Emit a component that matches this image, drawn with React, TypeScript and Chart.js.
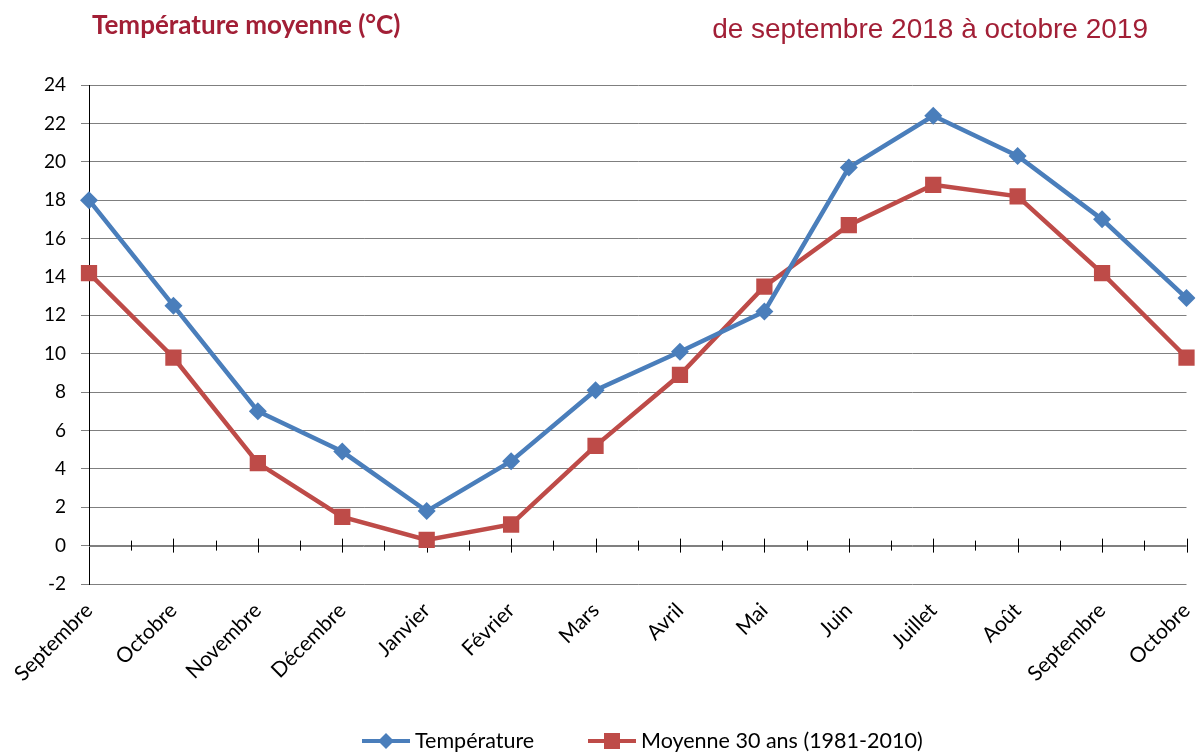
import React, { useEffect, useRef } from "react";
import { Chart, registerables } from "chart.js";

Chart.register(...registerables);

const months = [
  "Septembre", "Octobre", "Novembre", "Décembre", "Janvier", "Février", "Mars",
  "Avril", "Mai", "Juin", "Juillet", "Août", "Septembre", "Octobre",
];
const temperature = [18.0, 12.5, 7.0, 4.9, 1.8, 4.4, 8.1, 10.1, 12.2, 19.7, 22.4, 20.3, 17.0, 12.9];
const moyenne30 = [14.2, 9.8, 4.3, 1.5, 0.3, 1.1, 5.2, 8.9, 13.5, 16.7, 18.8, 18.2, 14.2, 9.8];
const seriesNames = ["Température", "Moyenne 30 ans (1981-2010)"];
const yMin = -2;
const yMax = 24;
const yStep = 2;
const titleText = "Température moyenne (°C)";
const subtitleText = "de septembre 2018 à octobre 2019";

const BLUE = "#4A7EBB";
const RED = "#BE4B48";
const TITLE_RED = "#A21F36";
const GRID = "#7F7F7F";
const LABEL_FONT = "Lato";

const decorPlugin = {
  id: "decor",
  beforeDatasetsDraw(chart: any) {
    const { ctx, scales } = chart;
    const x = scales.x;
    const y = scales.y;
    const y0 = y.getPixelForValue(0);
    ctx.save();
    ctx.strokeStyle = GRID;
    ctx.lineWidth = 1;
    ctx.beginPath();
    ctx.moveTo(x.left, Math.round(y0) + 0.5);
    ctx.lineTo(x.right, Math.round(y0) + 0.5);
    ctx.stroke();
    ctx.strokeStyle = "#000";
    const n = months.length;
    for (let i = 0; i < n; i++) {
      const px = Math.round(x.getPixelForValue(i)) + 0.5;
      if (i > 0) {
        ctx.beginPath();
        ctx.moveTo(px, y0 - 7);
        ctx.lineTo(px, y0 + 7);
        ctx.stroke();
      }
      if (i < n - 1) {
        const mx = Math.round((x.getPixelForValue(i) + x.getPixelForValue(i + 1)) / 2) + 0.5;
        ctx.beginPath();
        ctx.moveTo(mx, y0 - 5);
        ctx.lineTo(mx, y0 + 5);
        ctx.stroke();
      }
    }
    ctx.restore();
  },
  afterDraw(chart: any) {
    const { ctx } = chart;
    ctx.save();
    ctx.fillStyle = TITLE_RED;
    ctx.textBaseline = "middle";
    ctx.textAlign = "left";
    ctx.font = `bold 26px ${LABEL_FONT}`;
    ctx.fillText(titleText, 92, 26);
    ctx.font = `28px "Liberation Sans"`;
    ctx.textAlign = "right";
    ctx.fillText(subtitleText, 1148, 30);

    // legend
    const ly = 741;
    const items = [
      { x: 362, color: BLUE, style: "diamond", name: seriesNames[0] },
      { x: 588, color: RED, style: "square", name: seriesNames[1] },
    ];
    for (const it of items) {
      ctx.strokeStyle = it.color;
      ctx.fillStyle = it.color;
      ctx.lineWidth = 4;
      ctx.beginPath();
      ctx.moveTo(it.x, ly);
      ctx.lineTo(it.x + 48, ly);
      ctx.stroke();
      const cx = it.x + 24;
      ctx.beginPath();
      if (it.style === "diamond") {
        ctx.moveTo(cx, ly - 8);
        ctx.lineTo(cx + 8, ly);
        ctx.lineTo(cx, ly + 8);
        ctx.lineTo(cx - 8, ly);
        ctx.closePath();
      } else {
        ctx.rect(cx - 8, ly - 8, 16, 16);
      }
      ctx.fill();
      ctx.fillStyle = "#000";
      ctx.textAlign = "left";
      ctx.font = `21.5px ${LABEL_FONT}`;
      ctx.fillText(it.name, it.x + 53, ly);
    }
    ctx.restore();
  },
};

export default function App() {
  const ref = useRef<HTMLCanvasElement | null>(null);
  useEffect(() => {
    document.body.style.margin = "0";
    const canvas = ref.current;
    if (!canvas) return;
    const chart = new Chart(canvas, {
      type: "line",
      data: {
        labels: months,
        datasets: [
          {
            label: seriesNames[0],
            data: temperature,
            borderColor: BLUE,
            backgroundColor: BLUE,
            borderWidth: 4.5,
            pointStyle: "rectRot",
            pointRadius: 9,
            pointBorderWidth: 0,
            tension: 0,
          },
          {
            label: seriesNames[1],
            data: moyenne30,
            borderColor: RED,
            backgroundColor: RED,
            borderWidth: 4.5,
            pointStyle: "rect",
            pointRadius: 11.5,
            pointBorderWidth: 0,
            tension: 0,
          },
        ],
      },
      options: {
        animation: false,
        responsive: false,
        maintainAspectRatio: false,
        layout: { padding: { top: 85, right: 6, bottom: 70, left: 0 } },
        plugins: {
          legend: { display: false },
          title: { display: false },
          tooltip: { enabled: false },
        },
        scales: {
          x: {
            type: "category",
            offset: false,
            grid: { display: false },
            border: { display: false },
            ticks: {
              autoSkip: false,
              minRotation: 45,
              maxRotation: 45,
              padding: 6,
              color: "#000",
              font: { family: LABEL_FONT, size: 21 },
            },
            afterFit(s: any) {
              s.height = 100;
              s.paddingLeft = 0;
              s.paddingRight = 0;
            },
          },
          y: {
            min: yMin,
            max: yMax,
            ticks: {
              stepSize: yStep,
              padding: 15,
              color: "#000",
              font: { family: LABEL_FONT, size: 19 },
            },
            grid: { color: GRID, tickLength: 8, tickColor: GRID, lineWidth: 1 },
            border: { color: "#000", width: 1 },
            afterFit(s: any) {
              s.width = 89;
              s.paddingTop = 0;
              s.paddingBottom = 0;
            },
          },
        },
      },
      plugins: [decorPlugin],
    });
    return () => chart.destroy();
  }, []);
  return (
    <div style={{ position: "absolute", left: 0, top: 0, width: 1198, height: 754 }}>
      <canvas ref={ref} width={1198} height={754} style={{ width: 1198, height: 754 }} />
    </div>
  );
}
